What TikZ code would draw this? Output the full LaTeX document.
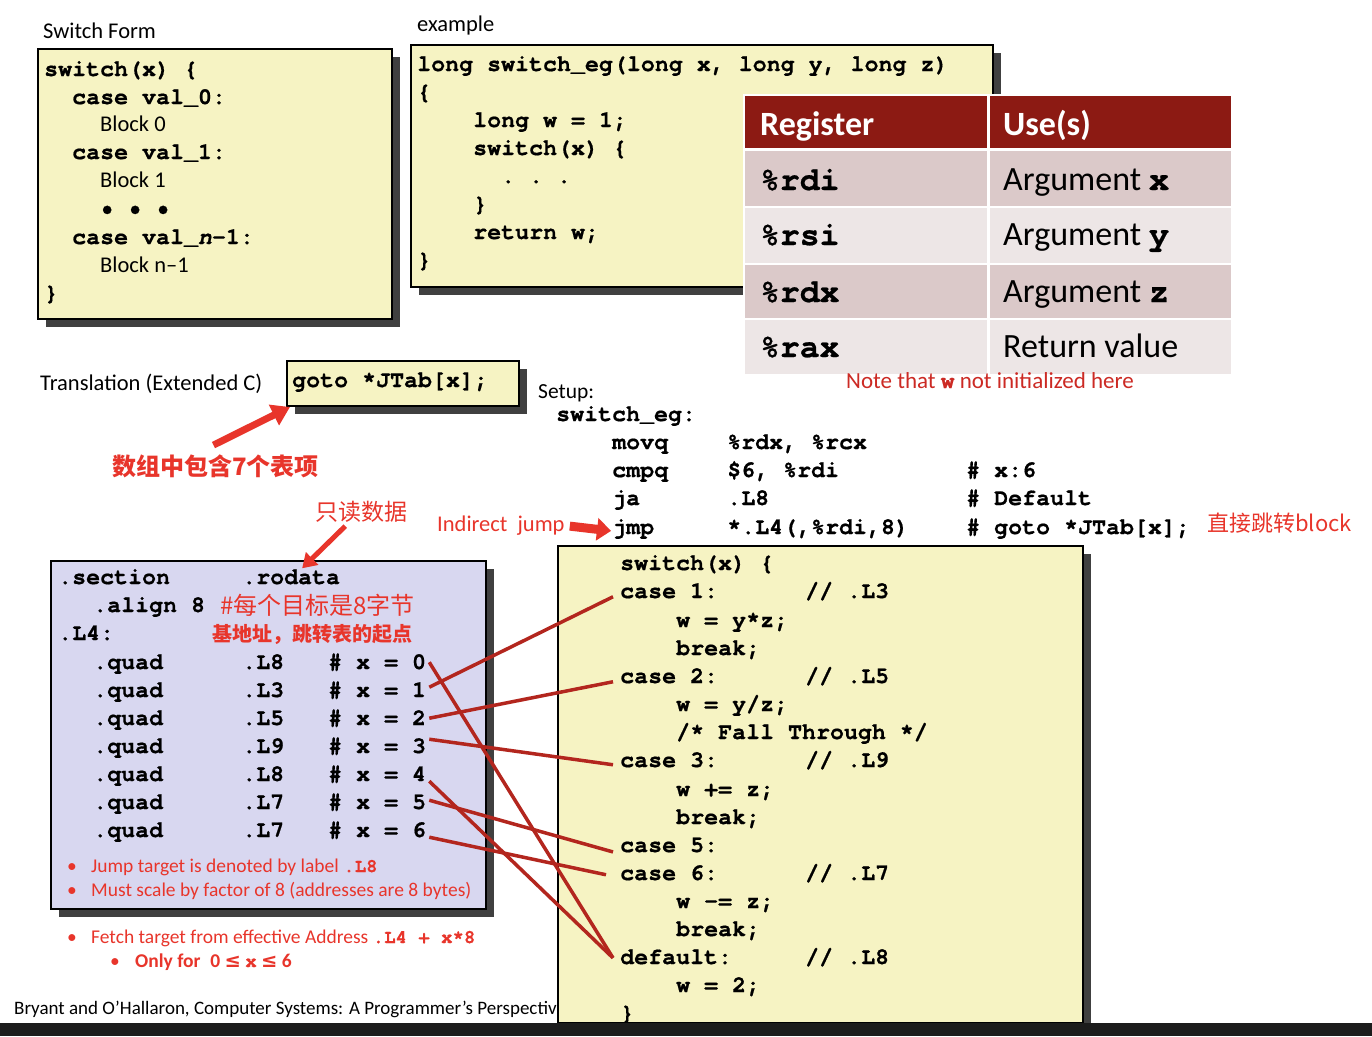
\documentclass[tikz,border=0pt]{standalone}
\usepackage{fontspec}
\setmainfont{Carlito}
\setmonofont{texgyrecursor}[Extension=.otf, UprightFont=*-regular, BoldFont=*-bold, ItalicFont=*-italic, BoldItalicFont=*-bolditalic, BoldFeatures={FakeBold=0.6}, BoldItalicFeatures={FakeBold=0.6}]
\newfontfamily\cjk{Noto Sans CJK SC}
\newfontfamily\symfnt{DejaVu Sans}
\usetikzlibrary{arrows.meta,shadows}

\definecolor{codeyellow}{HTML}{F6F3C3}
\definecolor{tablelav}{HTML}{D8D7F0}
\definecolor{shadowgray}{HTML}{404040}
\definecolor{headred}{HTML}{8C1A13}
\definecolor{rowdark}{HTML}{DBC9C9}
\definecolor{rowlight}{HTML}{EDE6E6}
\definecolor{notered}{HTML}{E8352B}
\definecolor{darknote}{HTML}{CC2A24}
\definecolor{linkred}{HTML}{B3261E}
\definecolor{barblack}{HTML}{1C1C1C}

\newcommand{\mono}[1]{{\ttfamily\bfseries #1}}

\begin{document}
\begin{tikzpicture}[x=1pt,y=-1pt,
  codetxt/.style={font=\ttfamily\bfseries\fontsize{23.3}{28}\selectfont, anchor=base west, inner sep=0pt, text=black},
  bigcode/.style={font=\ttfamily\bfseries\fontsize{33}{38}\selectfont, anchor=base west, inner sep=0pt, text=black},
  sanstxt/.style={font=\fontsize{22.5}{27}\selectfont, anchor=base west, inner sep=0pt, text=black},
  celltxt/.style={font=\fontsize{34}{40}\selectfont, anchor=base west, inner sep=0pt, text=black},
  headtxt/.style={font=\bfseries\fontsize{34}{40}\selectfont, anchor=base west, inner sep=0pt, text=white},
  redtxt/.style={font=\fontsize{19.5}{23}\selectfont, anchor=base west, inner sep=0pt, text=notered},
  cjktxt/.style={font=\cjk\fontsize{23}{27}\selectfont, anchor=base west, inner sep=0pt, text=notered},
  codebox/.style={draw=black, line width=2pt, inner sep=0pt, anchor=north west,
    drop shadow={shadow xshift=8pt, shadow yshift=-8pt, fill=shadowgray, opacity=1}},
  link/.style={draw=linkred, line width=3.5pt},
  fatarrow/.style={draw=notered, line width=#1}
]
\fill[white] (0,0) rectangle (1372,1036);
\useasboundingbox (0,0) rectangle (1372,1036);

% ---------- generic switch form ----------
\node[sanstxt] (swlabel) at (43,38) {Switch Form};
\node[codebox, fill=codeyellow, minimum width=354pt, minimum height=270pt] (swform) at (37,48) {};
\node[codetxt] (sf1) at (44,76) {switch(x) \{};
\node[codetxt] (sf2) at (72,104) {case val\_0:};
\node[sanstxt] (sf3) at (100,131) {Block 0};
\node[codetxt] (sf4) at (72,159) {case val\_1:};
\node[sanstxt] (sf5) at (100,187) {Block 1};
\node[codetxt] (sf6) at (100,215) {• • •};
\node[codetxt] (sf7) at (72,244) {case val\_{\itshape n}-1:};
\node[sanstxt] (sf8) at (100,272) {Block n–1};
\node[codetxt] (sf9) at (44,300) {\}};

% ---------- example function ----------
\node[sanstxt] (exlabel) at (417,31) {example};
\node[codebox, fill=codeyellow, minimum width=582pt, minimum height=242pt] (exbox) at (410,44) {};
\node[codetxt] (ex1) at (417,71) {long switch\_eg(long x, long y, long z)};
\node[codetxt] (ex2) at (417,99) {\{};
\node[codetxt] (ex3) at (473,127) {long w = 1;};
\node[codetxt] (ex4) at (473,155) {switch(x) \{};
\node[codetxt] (ex5) at (501,183) {. . .};
\node[codetxt] (ex6) at (473,211) {\}};
\node[codetxt] (ex7) at (473,239) {return w;};
\node[codetxt] (ex8) at (417,267) {\}};

% ---------- register table ----------
\fill[white] (743,94) rectangle (1233,376);
\fill[headred] (745,96) rectangle (987,148);
\fill[headred] (990,96) rectangle (1231,148);
\fill[rowdark] (745,151) rectangle (987,206);
\fill[rowdark] (990,151) rectangle (1231,206);
\fill[rowlight] (745,208) rectangle (987,263);
\fill[rowlight] (990,208) rectangle (1231,263);
\fill[rowdark] (745,265) rectangle (987,318);
\fill[rowdark] (990,265) rectangle (1231,318);
\fill[rowlight] (745,320) rectangle (987,374);
\fill[rowlight] (990,320) rectangle (1231,374);
\node[headtxt] (th1) at (760,135) {Register};
\node[headtxt] (th2) at (1003,135) {Use(s)};
\node[bigcode] (r1) at (760,190) {\%rdi};
\node[celltxt] (u1) at (1003,190) {Argument \mono{x}};
\node[bigcode] (r2) at (760,245) {\%rsi};
\node[celltxt] (u2) at (1003,245) {Argument \mono{y}};
\node[bigcode] (r3) at (760,302) {\%rdx};
\node[celltxt] (u3) at (1003,302) {Argument \mono{z}};
\node[bigcode] (r4) at (760,357) {\%rax};
\node[celltxt] (u4) at (1003,357) {Return value};
\node[redtxt, font=\fontsize{23}{27}\selectfont, text=darknote] (note) at (846,388) {Note that \mono{w} not initialized here};

% ---------- translation ----------
\node[sanstxt] (trlabel) at (40,390) {Translation (Extended C)};
\node[codebox, fill=codeyellow, minimum width=232pt, minimum height=45pt] (gotobox) at (286,360) {};
\node[codetxt] (gototxt) at (292,387) {goto *JTab[x];};
\node[cjktxt, font=\cjk\bfseries\fontsize{24}{28}\selectfont] (entries) at (112,475) {数组中包含7个表项};
\draw[fatarrow=7pt, -{Triangle[length=18pt,width=22pt]}] ([xshift=-2pt,yshift=9pt]entries.north) -- ([xshift=4pt]gotobox.south west);

% ---------- assembly setup ----------
\node[sanstxt, font=\fontsize{21.5}{26}\selectfont] (setup) at (538,398) {Setup:};
\node[codetxt] (a0) at (556,421) {switch\_eg:};
\node[codetxt] (a1) at (612,449) {movq};
\node[codetxt] (a1o) at (727,449) {\%rdx, \%rcx};
\node[codetxt] (a2) at (612,477) {cmpq};
\node[codetxt] (a2o) at (727,477) {\$6, \%rdi};
\node[codetxt] (a2c) at (966,477) {\# x:6};
\node[codetxt] (a3) at (612,505) {ja};
\node[codetxt] (a3o) at (727,505) {.L8};
\node[codetxt] (a3c) at (966,505) {\# Default};
\node[codetxt] (jmp) at (612,534) {jmp};
\node[codetxt] (a4o) at (727,534) {*.L4(,\%rdi,8)};
\node[codetxt] (a4c) at (966,534) {\# goto *JTab[x];};
\node[redtxt, font=\fontsize{22.5}{26}\selectfont] (indirect) at (437,531) {Indirect\hspace{0.45em}jump};
\draw[fatarrow=9pt, -{Triangle[length=14pt,width=22pt]}] ([xshift=5pt,yshift=-1pt]indirect.east) -- ([xshift=-1pt,yshift=-2pt]jmp.west);
\node[cjktxt, font=\cjk\fontsize{22}{26}\selectfont] (direct) at (1207,531) {直接跳转block};

% ---------- jump table ----------
\node[codebox, fill=tablelav, minimum width=435pt, minimum height=348pt] (jtbox) at (50,560) {};
\node[codetxt] (sec) at (58,584) {.section};
\node[codetxt] (rodata) at (242,584) {.rodata};
\node[codetxt] (align) at (93,612) {.align 8};
\node[cjktxt, font=\cjk\fontsize{24}{28}\selectfont] (eachnote) at (220,614) {\#每个目标是8字节};
\node[codetxt] (l4) at (58,640) {.L4:};
\node[cjktxt, font=\cjk\bfseries\fontsize{20}{24}\selectfont] (basenote) at (212,641) {基地址，跳转表的起点};
\foreach \i/\lab in {0/L8,1/L3,2/L5,3/L9,4/L8,5/L7,6/L7} {
  \node[codetxt] (quad\i) at (93,669+28*\i) {.quad};
  \node[codetxt] (lab\i) at (242,669+28*\i) {.\lab};
  \node[codetxt] (q\i) at (328,669+28*\i) {\# x = \i};
}
\node[redtxt] (b1) at (67,872) {•};
\node[redtxt] (b1t) at (91,872) {Jump target is denoted by label \mono{\fontsize{19}{23}\selectfont.L8}};
\node[redtxt] (b2) at (67,896) {•};
\node[redtxt] (b2t) at (91,896) {Must scale by factor of 8 (addresses are 8 bytes)};
\node[cjktxt] (readonly) at (315,520) {只读数据};
\draw[fatarrow=5pt, -{Triangle[length=14pt,width=17pt]}] ([xshift=-16pt,yshift=-4pt]readonly.south) -- ([xshift=11pt,yshift=1pt]rodata.north);

\node[redtxt] (b3) at (67,943) {•};
\node[redtxt] (b3t) at (91,943) {Fetch target from effective Address \mono{\fontsize{19}{23}\selectfont.L4 + x*8}};
\node[redtxt] (b4) at (110,967) {•};
\node[redtxt, font=\bfseries\fontsize{19.5}{23}\selectfont] (b4t) at (135,967) {Only for\hspace{0.5em}0 {\symfnt ≤} \mono{\fontsize{19}{23}\selectfont x} {\symfnt ≤} 6};

\node[sanstxt, font=\fontsize{19}{23}\selectfont] (credit) at (14,1014) {Bryant and O’Hallaron, Computer Systems: A Programmer’s Perspective};

% ---------- switch body with jump targets ----------
\node[codebox, fill=codeyellow, minimum width=525pt, minimum height=477pt] (casebox) at (557,545) {};
\node[codetxt] (s0) at (620,570) {switch(x) \{};
\node[codetxt] (c1) at (620,598) {case 1:};
\node[codetxt] (c1c) at (805,598) {// .L3};
\node[codetxt] (s2) at (676,627) {w = y*z;};
\node[codetxt] (s3) at (676,655) {break;};
\node[codetxt] (c2) at (620,683) {case 2:};
\node[codetxt] (c2c) at (805,683) {// .L5};
\node[codetxt] (s5) at (676,711) {w = y/z;};
\node[codetxt] (s6) at (676,739) {/* Fall Through */};
\node[codetxt] (c3) at (620,767) {case 3:};
\node[codetxt] (c3c) at (805,767) {// .L9};
\node[codetxt] (s8) at (676,796) {w += z;};
\node[codetxt] (s9) at (676,824) {break;};
\node[codetxt] (c5) at (620,852) {case 5:};
\node[codetxt] (c6) at (620,880) {case 6:};
\node[codetxt] (c6c) at (805,880) {// .L7};
\node[codetxt] (s12) at (676,908) {w -= z;};
\node[codetxt] (s13) at (676,936) {break;};
\node[codetxt] (cdef) at (620,964) {default:};
\node[codetxt] (cdefc) at (805,964) {// .L8};
\node[codetxt] (s15) at (676,992) {w = 2;};
\node[codetxt] (s16) at (620,1020) {\}};

% table entries -> case labels
\draw[link] ([xshift=3pt]q0.east) -- ([xshift=-7pt,yshift=-1pt]cdef.west);
\draw[link] ([xshift=3pt,yshift=3pt]q1.east) -- ([xshift=-7pt,yshift=-6pt]c1.west);
\draw[link] ([xshift=3pt]q2.east) -- ([xshift=-7pt,yshift=-6pt]c2.west);
\draw[link] ([xshift=3pt,yshift=7pt]q3.east) -- ([xshift=-7pt,yshift=-5pt]c3.west);
\draw[link] ([xshift=3pt,yshift=-7pt]q4.east) -- ([xshift=-7pt,yshift=-1pt]cdef.west);
\draw[link] ([xshift=3pt,yshift=2pt]q5.east) -- ([xshift=-7pt,yshift=-7pt]c5.west);
\draw[link] ([xshift=3pt,yshift=-7pt]q6.east) -- ([xshift=-14pt,yshift=-2pt]c6.west);

\fill[barblack] (0,1023) rectangle (1372,1036);
\end{tikzpicture}
\end{document}
